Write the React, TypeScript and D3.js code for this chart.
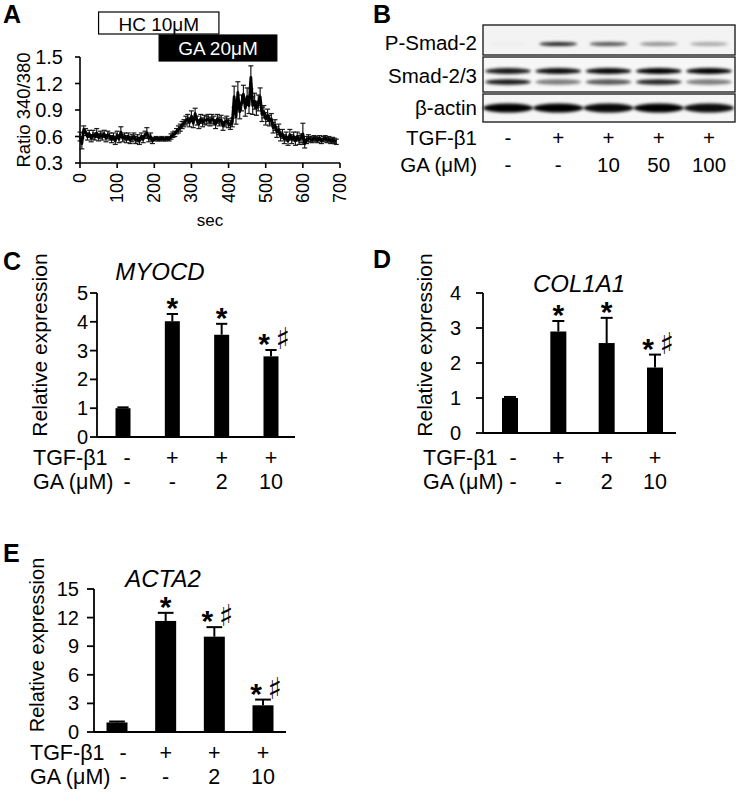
import React from 'react';
import * as d3 from 'd3';

const FONT = '"Liberation Sans", Arial, Helvetica, sans-serif';

// Panel A: calcium ratio trace (sampled every 5 s)
const sampleStepSec = 5;
const ratio = [0.60,0.52,0.68,0.65,0.60,0.63,0.58,0.62,0.60,0.64,0.59,0.62,0.60,0.63,0.58,0.62,0.60,0.57,0.60,0.55,
  0.62,0.57,0.65,0.58,0.60,0.57,0.60,0.56,0.58,0.60,0.56,0.58,0.55,0.60,0.57,0.62,0.64,0.58,0.60,0.55,
  0.57,0.58,0.57,0.57,0.58,0.57,0.57,0.58,0.57,0.60,0.62,0.63,0.66,0.68,0.70,0.73,0.75,0.78,0.80,0.76,
  0.83,0.75,0.86,0.78,0.74,0.80,0.76,0.79,0.78,0.80,0.77,0.80,0.78,0.74,0.80,0.77,0.79,0.72,0.76,0.78,
  0.75,0.73,0.76,1.05,0.82,1.10,0.88,0.98,1.08,0.92,1.05,0.95,1.27,0.95,1.00,0.92,0.98,1.05,0.85,0.88,
  0.80,0.84,0.78,0.80,0.70,0.73,0.65,0.68,0.60,0.63,0.57,0.60,0.55,0.62,0.57,0.60,0.55,0.60,0.56,0.58,
  0.63,0.52,0.56,0.58,0.57,0.56,0.58,0.57,0.56,0.58,0.55,0.57,0.58,0.56,0.57,0.55,0.56,0.55,0.54];
const ratioErr = [0.05,0.06,0.04,0.04,0.04,0.04,0.04,0.05,0.04,0.05,0.04,0.04,0.04,0.04,0.04,0.04,0.04,0.04,0.04,0.04,
  0.04,0.04,0.06,0.04,0.04,0.04,0.04,0.04,0.04,0.04,0.04,0.04,0.04,0.04,0.04,0.04,0.06,0.04,0.04,0.03,
  0.02,0.02,0.02,0.02,0.02,0.02,0.02,0.02,0.02,0.03,0.03,0.03,0.03,0.04,0.04,0.04,0.04,0.05,0.05,0.05,
  0.06,0.05,0.06,0.05,0.05,0.05,0.05,0.05,0.05,0.05,0.05,0.05,0.05,0.05,0.05,0.05,0.05,0.05,0.05,0.05,
  0.05,0.05,0.05,0.12,0.08,0.12,0.08,0.09,0.10,0.09,0.10,0.09,0.13,0.10,0.09,0.08,0.09,0.10,0.08,0.07,
  0.07,0.07,0.06,0.06,0.06,0.06,0.06,0.06,0.05,0.05,0.05,0.05,0.05,0.06,0.05,0.05,0.05,0.05,0.05,0.05,
  0.12,0.05,0.04,0.04,0.03,0.03,0.03,0.03,0.03,0.03,0.03,0.03,0.03,0.03,0.03,0.03,0.03,0.03,0.03];
const aXTicks = [0, 100, 200, 300, 400, 500, 600, 700];
const aYTicks = [0.3, 0.6, 0.9, 1.2, 1.5];
const treatments = [
  { label: 'HC 10μM', start: 50, end: 374, dark: false },
  { label: 'GA 20μM', start: 213, end: 530, dark: true },
];

// Panel B: western blot
const blotLanesTGF = ['-', '+', '+', '+', '+'];
const blotLanesGA = ['-', '-', '10', '50', '100'];
const pSmadIntensity = [0.02, 0.85, 0.65, 0.4, 0.3];
const smadUpperIntensity = [0.9, 0.95, 0.97, 1.0, 1.0];
const smadLowerIntensity = [0.9, 0.5, 0.65, 0.85, 0.5];
const actinIntensity = [1.0, 1.0, 0.97, 1.0, 0.95];
const blotRows = ['P-Smad-2', 'Smad-2/3', 'β-actin'];

// Panels C–E: qPCR
const qTGF = ['-', '+', '+', '+'];
const qGA = ['-', '-', '2', '10'];
const myocdMean = [1.0, 4.02, 3.55, 2.8];
const myocdErr = [0.03, 0.25, 0.38, 0.22];
const myocdMarks = ['', '*', '*', '*♯'];
const col1a1Mean = [1.0, 2.9, 2.57, 1.87];
const col1a1Err = [0.03, 0.3, 0.72, 0.37];
const col1a1Marks = ['', '*', '*', '*♯'];
const acta2Mean = [1.0, 11.65, 10.0, 2.8];
const acta2Err = [0.1, 0.85, 1.0, 0.6];
const acta2Marks = ['', '*', '*♯', '*♯'];

function PanelA() {
  const x = d3.scaleLinear().domain([0, 700]).range([80, 340]);
  const y = d3.scaleLinear().domain([0.3, 1.5]).range([163, 57]);
  const pts = ratio.map((v, i) => ({ t: i * sampleStepSec, v, e: ratioErr[i] ?? 0.04 }));
  const line = d3.line<{ t: number; v: number }>().x(d => x(d.t)).y(d => y(d.v));
  return (
    <g fontFamily={FONT}>
      <text x={3} y={23} fontSize={25} fontWeight="bold">A</text>
      {treatments.map(tr => (
        <g key={tr.label}>
          <rect x={x(tr.start)} y={tr.dark ? 35 : 12} width={x(tr.end) - x(tr.start)} height={tr.dark ? 26 : 22}
            fill={tr.dark ? '#000' : '#fff'} stroke="#000" strokeWidth={1.2} />
          <text x={(x(tr.start) + x(tr.end)) / 2} y={tr.dark ? 55 : 31} textAnchor="middle" fontSize={19}
            fill={tr.dark ? '#fff' : '#000'}>{tr.label}</text>
        </g>
      ))}
      {pts.map((p, i) => (
        <g key={i} stroke="#1a1a1a" strokeWidth={1.2}>
          <line x1={x(p.t)} x2={x(p.t)} y1={y(p.v - p.e)} y2={y(p.v + p.e)} />
          <line x1={x(p.t) - 2.5} x2={x(p.t) + 2.5} y1={y(p.v + p.e)} y2={y(p.v + p.e)} />
          <line x1={x(p.t) - 2.5} x2={x(p.t) + 2.5} y1={y(p.v - p.e)} y2={y(p.v - p.e)} />
        </g>
      ))}
      <path d={line(pts) || ''} fill="none" stroke="#000" strokeWidth={2.8} strokeLinejoin="round" />
      <line x1={80} x2={80} y1={57} y2={163} stroke="#000" strokeWidth={1.6} />
      <line x1={80} x2={340} y1={163} y2={163} stroke="#000" strokeWidth={1.6} />
      {aYTicks.map(t => (
        <g key={t}>
          <line x1={75} x2={80} y1={y(t)} y2={y(t)} stroke="#000" strokeWidth={1.6} />
          <text x={63} y={y(t) + 7} textAnchor="end" fontSize={20}>{t.toFixed(1)}</text>
        </g>
      ))}
      {aXTicks.map(t => (
        <g key={t}>
          <line x1={x(t)} x2={x(t)} y1={163} y2={168} stroke="#000" strokeWidth={1.6} />
          <text transform={`translate(${x(t) + 6},173) rotate(-90)`} textAnchor="end" fontSize={18}>{t}</text>
        </g>
      ))}
      <text x={210} y={226} textAnchor="middle" fontSize={17}>sec</text>
      <text transform="translate(30,110) rotate(-90)" textAnchor="middle" fontSize={18.5}>Ratio 340/380</text>
    </g>
  );
}

function PanelB() {
  const lane = d3.scalePoint<number>().domain(d3.range(5)).range([508, 709]);
  const bx0 = 483, bx1 = 735;
  const rows = [
    { y0: 25, y1: 55, bg: '#f3f3f3' },
    { y0: 57, y1: 92, bg: '#f7f7f7' },
    { y0: 94, y1: 122, bg: '#f6f6f6' },
  ];
  const labelY = [50, 83, 115];
  const bands: { cx: number; cy: number; w: number; h: number; a: number }[] = [];
  pSmadIntensity.forEach((a, i) => bands.push({ cx: lane(i)!, cy: 44, w: 38, h: 4, a }));
  smadUpperIntensity.forEach((a, i) => bands.push({ cx: lane(i)!, cy: 71, w: 46, h: 6, a }));
  smadLowerIntensity.forEach((a, i) => bands.push({ cx: lane(i)!, cy: 82, w: 46, h: 5.5, a }));
  actinIntensity.forEach((a, i) => bands.push({ cx: lane(i)!, cy: 108, w: 50, h: 9, a }));
  return (
    <g fontFamily={FONT}>
      <defs>
        <filter id="blur" x="-20%" y="-100%" width="140%" height="300%">
          <feGaussianBlur stdDeviation="1.5" />
        </filter>
      </defs>
      <text x={373} y={23} fontSize={25} fontWeight="bold">B</text>
      {rows.map((r, i) => (
        <rect key={i} x={bx0} y={r.y0} width={bx1 - bx0} height={r.y1 - r.y0} fill={r.bg} />
      ))}
      <g filter="url(#blur)">
        {bands.map((b, i) => (
          <ellipse key={i} cx={b.cx} cy={b.cy} rx={b.w / 2} ry={b.h / 2} fill="#000" opacity={b.a} />
        ))}
      </g>
      {rows.map((r, i) => (
        <rect key={i} x={bx0} y={r.y0} width={bx1 - bx0} height={r.y1 - r.y0} fill="none" stroke="#222" strokeWidth={1.4} />
      ))}
      {blotRows.map((l, i) => (
        <text key={l} x={477} y={labelY[i]} textAnchor="end" fontSize={20.5}>{l}</text>
      ))}
      <text x={477} y={145} textAnchor="end" fontSize={20.5}>TGF-β1</text>
      <text x={477} y={172} textAnchor="end" fontSize={20.5}>GA (μM)</text>
      {blotLanesTGF.map((s, i) => (
        <text key={i} x={lane(i)} y={145} textAnchor="middle" fontSize={20.5}>{s}</text>
      ))}
      {blotLanesGA.map((s, i) => (
        <text key={i} x={lane(i)} y={172} textAnchor="middle" fontSize={20.5}>{s}</text>
      ))}
    </g>
  );
}

type BarProps = {
  letter: string; letterX: number; letterY: number;
  title: string; titleX: number; titleY: number;
  means: number[]; errs: number[]; marks: string[];
  yMax: number; yStep: number; yTop: number; yBottom: number;
  axisX: number; axisEnd: number; firstX: number; lastX: number; barW: number;
  tickLabelX: number; yLabelX: number; yLabelY: number; yLabelSize: number;
  rowLabelX: number; row1Y: number; row2Y: number; signX0: number;
};

function BarPanel(p: BarProps) {
  const y = d3.scaleLinear().domain([0, p.yMax]).range([p.yBottom, p.yTop]);
  const x = d3.scalePoint<number>().domain(d3.range(p.means.length)).range([p.firstX, p.lastX]);
  const ticks = d3.range(0, p.yMax + 0.001, p.yStep);
  const cap = p.barW * 0.75;
  return (
    <g fontFamily={FONT}>
      <text x={p.letterX} y={p.letterY} fontSize={25} fontWeight="bold">{p.letter}</text>
      <text x={p.titleX} y={p.titleY} textAnchor="middle" fontSize={24} fontStyle="italic">{p.title}</text>
      {p.means.map((m, i) => {
        const cx = x(i)!;
        const top = y(m + p.errs[i]);
        const mark = p.marks[i];
        const hasSharp = mark.length > 1;
        const starCenter = top - 13;
        return (
          <g key={i}>
            <line x1={cx} x2={cx} y1={y(m)} y2={top} stroke="#000" strokeWidth={2} />
            <line x1={cx - cap / 2} x2={cx + cap / 2} y1={top} y2={top} stroke="#000" strokeWidth={2} />
            <rect x={cx - p.barW / 2} y={y(m)} width={p.barW} height={p.yBottom - y(m)} fill="#000" />
            {mark && (
              <text x={hasSharp ? cx - 7 : cx} y={starCenter + 17} textAnchor="middle" fontSize={30}
                fontWeight="bold" fill="#000">*</text>
            )}
            {hasSharp && (
              <text x={cx + 12} y={starCenter + 12} textAnchor="middle" fontSize={30}
                fontFamily='"DejaVu Sans", sans-serif' fill="#000">{'\u266F\uFE0E'}</text>
            )}
          </g>
        );
      })}
      <line x1={p.axisX} x2={p.axisX} y1={p.yTop} y2={p.yBottom} stroke="#000" strokeWidth={1.8} />
      <line x1={p.axisX} x2={p.axisEnd} y1={p.yBottom} y2={p.yBottom} stroke="#000" strokeWidth={1.8} />
      {ticks.map(t => (
        <g key={t}>
          <line x1={p.axisX - 7} x2={p.axisX} y1={y(t)} y2={y(t)} stroke="#000" strokeWidth={1.8} />
          <text x={p.tickLabelX} y={y(t) + 7} textAnchor="end" fontSize={20}>{t}</text>
        </g>
      ))}
      <text transform={`translate(${p.yLabelX},${p.yLabelY}) rotate(-90)`} textAnchor="middle" fontSize={p.yLabelSize}>Relative expression</text>
      <text x={p.rowLabelX} y={p.row1Y} fontSize={21.5}>TGF-β1</text>
      <text x={p.rowLabelX} y={p.row2Y} fontSize={21.5}>GA (μM)</text>
      {qTGF.map((s, i) => (
        <text key={i} x={i === 0 ? p.signX0 : x(i)} y={p.row1Y} textAnchor="middle" fontSize={21.5}>{s}</text>
      ))}
      {qGA.map((s, i) => (
        <text key={i} x={i === 0 ? p.signX0 : x(i)} y={p.row2Y} textAnchor="middle" fontSize={21.5}>{s}</text>
      ))}
    </g>
  );
}

export default function App() {
  return (
    <svg width={739} height={792} viewBox="0 0 739 792"
      style={{ position: 'absolute', left: 0, top: 0, background: '#fff' }}>
      <rect x={0} y={0} width={739} height={792} fill="#fff" />
      <PanelA />
      <PanelB />
      <BarPanel letter="C" letterX={3} letterY={270} title="MYOCD" titleX={160} titleY={280}
        means={myocdMean} errs={myocdErr} marks={myocdMarks}
        yMax={5} yStep={1} yTop={293} yBottom={437} axisX={97} axisEnd={295}
        firstX={123} lastX={271} barW={15} tickLabelX={88}
        yLabelX={47} yLabelY={345} yLabelSize={21}
        rowLabelX={33} row1Y={465} row2Y={489} signX0={127} />
      <BarPanel letter="D" letterX={373} letterY={268} title="COL1A1" titleX={579} titleY={292}
        means={col1a1Mean} errs={col1a1Err} marks={col1a1Marks}
        yMax={4} yStep={1} yTop={293} yBottom={433} axisX={483} axisEnd={676}
        firstX={510} lastX={655} barW={16} tickLabelX={461}
        yLabelX={432} yLabelY={345} yLabelSize={21}
        rowLabelX={423} row1Y={465} row2Y={489} signX0={513} />
      <BarPanel letter="E" letterX={3} letterY={562} title="ACTA2" titleX={163} titleY={587}
        means={acta2Mean} errs={acta2Err} marks={acta2Marks}
        yMax={15} yStep={3} yTop={589} yBottom={732} axisX={94} axisEnd={286}
        firstX={117} lastX={263} barW={21} tickLabelX={79}
        yLabelX={44} yLabelY={645} yLabelSize={20}
        rowLabelX={30} row1Y={760} row2Y={784} signX0={123} />
    </svg>
  );
}
